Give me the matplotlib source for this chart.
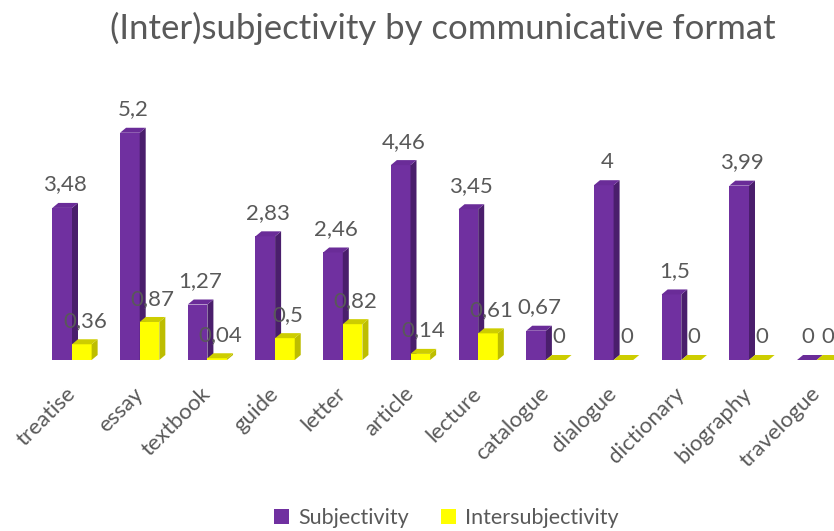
import matplotlib
matplotlib.use("Agg")
import matplotlib.pyplot as plt
from matplotlib.patches import Polygon, Patch
import numpy as np

plt.rcParams['font.family'] = ['Lato', 'DejaVu Sans']

categories = ["treatise", "essay", "textbook", "guide", "letter", "article",
              "lecture", "catalogue", "dialogue", "dictionary", "biography", "travelogue"]
subjectivity = [3.48, 5.2, 1.27, 2.83, 2.46, 4.46, 3.45, 0.67, 4, 1.5, 3.99, 0]
intersubjectivity = [0.36, 0.87, 0.04, 0.5, 0.82, 0.14, 0.61, 0, 0, 0, 0, 0]
series_names = ["Subjectivity", "Intersubjectivity"]

W, H = 834, 531
fig = plt.figure(figsize=(W / 100, H / 100), dpi=100)

# axes geometry in pixels
base_px = 360          # baseline from top
top_px = 60
px_per_cat = 67.7
px_per_unit = 43.7
first_center_px = 72

ax = fig.add_axes([0, (H - base_px) / H, 1, (base_px - top_px) / H])
ax.set_xlim(-first_center_px / px_per_cat, (W - first_center_px) / px_per_cat)
ax.set_ylim(0, (base_px - top_px) / px_per_unit)
for s in ax.spines.values():
    s.set_visible(False)
ax.set_yticks([])

# depth of the pseudo-3D extrusion, converted to data units
dx = 6 / px_per_cat
dy = 5 / px_per_unit
bw = 0.29

styles = [
    dict(front="#7030A0", side="#4A1E6C", top="#6A2C98"),
    dict(front="#FFFF00", side="#BDBD00", top="#CDCD00"),
]

x = np.arange(len(categories))
label_color = "#595959"


def fmt(v):
    return ("%g" % v).replace(".", ",")


last = len(categories) - 1
for k, (vals, st) in enumerate(zip([subjectivity, intersubjectivity], styles)):
    offs = -bw / 2 if k == 0 else bw / 2
    xs = x + offs
    ax.bar(xs, vals, width=bw, color=st["front"], linewidth=0, zorder=3 + k)
    for i, (xi, v) in enumerate(zip(xs, vals)):
        x0, x1 = xi - bw / 2, xi + bw / 2
        side = Polygon([(x1, 0), (x1 + dx, dy), (x1 + dx, v + dy), (x1, v)],
                       closed=True, facecolor=st["side"], edgecolor="none",
                       zorder=3 + k, clip_on=False)
        top = Polygon([(x0, v), (x0 + dx, v + dy), (x1 + dx, v + dy), (x1, v)],
                      closed=True, facecolor=st["top"], edgecolor="none",
                      zorder=3 + k, clip_on=False)
        ax.add_patch(side)
        ax.add_patch(top)
        # keep the last pair of labels apart and inside the figure
        shift = 0
        if i == last:
            shift = -1.5 if k == 0 else -1.5
        ax.annotate(fmt(v), (xi + dx / 2, v + dy), xytext=(shift, 6),
                    textcoords="offset points", ha="center", va="bottom",
                    fontsize=16, color=label_color, zorder=10,
                    annotation_clip=False)

ax.set_xticks(x, categories, rotation=45, ha="right", va="center",
              rotation_mode="anchor", fontsize=16, color=label_color)
ax.tick_params(axis="x", length=0, pad=22)

fig.text(0.5306, 1 - 28 / H, "(Inter)subjectivity by communicative format",
         ha="center", va="center", fontsize=25, color=label_color)

handles = [Patch(facecolor=styles[0]["front"]), Patch(facecolor=styles[1]["front"])]
fig.legend(handles, series_names, loc="center", bbox_to_anchor=(0.535, 1 - 518 / H),
           ncol=2, frameon=False, fontsize=15.5, handlelength=0.7, handleheight=0.7,
           handletextpad=0.4, columnspacing=1.5, labelcolor=label_color)

fig.savefig("out.png", dpi=100)
